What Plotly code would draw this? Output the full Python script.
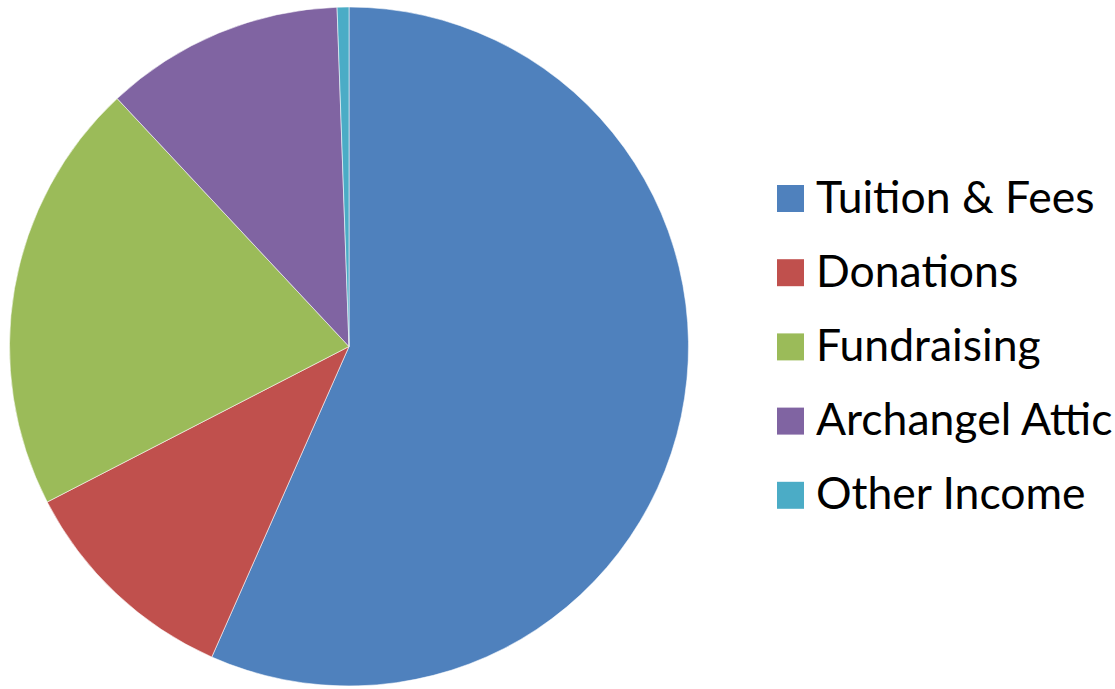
import plotly.graph_objects as go

categories = ["Tuition & Fees", "Donations", "Fundraising", "Archangel Attic", "Other Income"]
values = [56.6, 10.8, 20.6, 11.4, 0.56]
colors = ["#4F81BD", "#C0504D", "#9BBB59", "#8064A2", "#4BACC6"]

W, H = 1115, 689
fig = go.Figure()

# pie: centre (349, 346.5) px, radius ~339.5 px
cx, cy, r = 349, 346.5, 339.5
fig.add_trace(go.Pie(
    labels=categories, values=values, sort=False, direction="clockwise", rotation=0,
    marker=dict(colors=colors, line=dict(color="rgba(255,255,255,0.55)", width=1)),
    textinfo="none", hoverinfo="label+percent", showlegend=False,
    domain=dict(x=[(cx - r) / W, (cx + r) / W], y=[(H - cy - r) / H, (H - cy + r) / H]),
))

# custom legend
leg_y = [198.5 + 74.2 * i for i in range(len(categories))]
fig.add_trace(go.Scatter(
    x=[790.5] * len(categories), y=leg_y, mode="markers",
    marker=dict(symbol="square", size=27, color=colors, line=dict(width=0)),
    hoverinfo="skip", showlegend=False,
))
fig.add_trace(go.Scatter(
    x=[816] * len(categories), y=[v + 3 for v in leg_y], mode="text", text=categories,
    textposition="middle right",
    textfont=dict(family="Lato", size=44.5, color="#000000"),
    hoverinfo="skip", showlegend=False,
))

fig.update_layout(
    width=W, height=H, margin=dict(l=0, r=0, t=0, b=0),
    paper_bgcolor="white", plot_bgcolor="rgba(0,0,0,0)",
    xaxis=dict(range=[0, W], visible=False, fixedrange=True),
    yaxis=dict(range=[H, 0], visible=False, fixedrange=True),
)

fig.write_html("out.html", config={"displayModeBar": False},
               post_script="document.body.style.margin='0';document.body.style.overflow='hidden';")
